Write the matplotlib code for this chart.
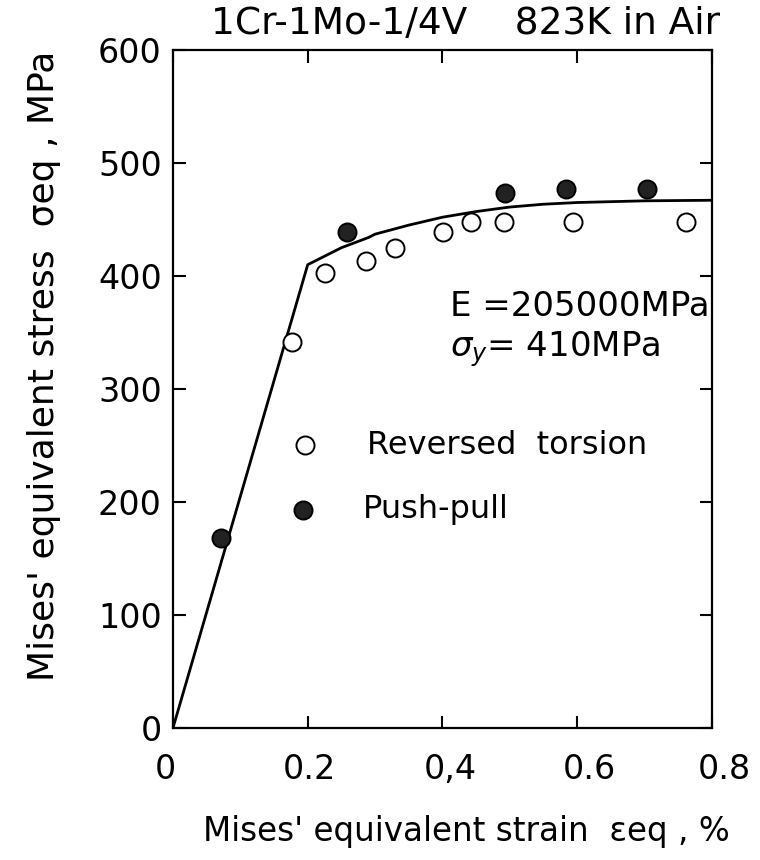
import numpy as np
import matplotlib
matplotlib.use('Agg')
import matplotlib.pyplot as plt
import matplotlib.transforms as mtransforms

curve_strain = [0.0, 0.2, 0.25, 0.29, 0.30, 0.35, 0.40, 0.45, 0.50, 0.55, 0.60, 0.70, 0.80]
curve_stress = [0, 410, 425, 434, 437, 445, 452, 457, 461, 463.5, 465, 466.5, 467]

torsion_strain = [0.177, 0.226, 0.287, 0.329, 0.401, 0.442, 0.492, 0.594, 0.762]
torsion_stress = [342, 403, 413, 425, 439, 448, 448, 448, 448]

pushpull_strain = [0.072, 0.259, 0.493, 0.584, 0.703]
pushpull_stress = [168, 439, 473, 477, 477]

xticks = [0, 0.2, 0.4, 0.6, 0.8]
xlabels = ['0', '0.2', '0,4', '0.6', '0.8']
yticks = [0, 100, 200, 300, 400, 500, 600]

plt.rcParams['font.family'] = ['DejaVu Sans']

fig = plt.figure(figsize=(7.6, 8.6), dpi=100)
ax = fig.add_axes([0.2276, 0.1535, 0.7092, 0.7884])

ax.plot(curve_strain, curve_stress, color='black', linewidth=2.0)
ax.plot(torsion_strain, torsion_stress, linestyle='None', marker='o', markersize=13,
        markerfacecolor='white', markeredgecolor='black', markeredgewidth=1.4)
ax.plot(pushpull_strain, pushpull_stress, linestyle='None', marker='o', markersize=13,
        markerfacecolor='#222222', markeredgecolor='black', markeredgewidth=1.4)

ax.set_xlim(0, 0.8)
ax.set_ylim(0, 600)
ax.set_xticks(xticks)
ax.set_xticklabels(xlabels)
ax.set_yticks(yticks)
ax.tick_params(direction='in', length=9, width=1.5, top=True, right=True, labelsize=24)
ax.tick_params(axis='x', pad=18)
ax.tick_params(axis='y', pad=8)
for s in ax.spines.values():
    s.set_linewidth(1.6)

# the hand-lettered x labels drift a little to the right
shifts = [-8, 2, 8, 12, 12]
for lab, dx in zip(ax.get_xticklabels(), shifts):
    lab.set_transform(lab.get_transform() +
                      mtransforms.ScaledTranslation(dx / 100, 0, fig.dpi_scale_trans))

# legend drawn by hand like the original
ax.plot([0.196], [250], marker='o', markersize=13, markerfacecolor='white',
        markeredgecolor='black', markeredgewidth=1.4, clip_on=False)
ax.plot([0.193], [193], marker='o', markersize=13, markerfacecolor='#222222',
        markeredgecolor='black', markeredgewidth=1.4, clip_on=False)
ax.text(0.36, 250, 'Reversed  torsion', transform=ax.get_yaxis_transform(),
        fontsize=23, va='center', ha='left')
ax.text(0.352, 193, 'Push-pull', transform=ax.get_yaxis_transform(),
        fontsize=23, va='center', ha='left')

ax.text(0.514, 373, 'E =205000MPa', transform=ax.get_yaxis_transform(),
        fontsize=24.5, va='center', ha='left')
ax.text(0.514, 335, r'$\sigma_y$= 410MPa', transform=ax.get_yaxis_transform(),
        fontsize=24.5, va='center', ha='left')

fig.text(0.613, 0.972, '1Cr-1Mo-1/4V    823K in Air', fontsize=27,
         ha='center', va='center')

fig.text(0.613, 0.033, "Mises' equivalent strain  εeq , %", fontsize=23.5,
         ha='center', va='center')
fig.text(0.058, 0.574, "Mises' equivalent stress  σeq , MPa", fontsize=26,
         ha='center', va='center', rotation=90)

fig.savefig('out.png', dpi=100)
